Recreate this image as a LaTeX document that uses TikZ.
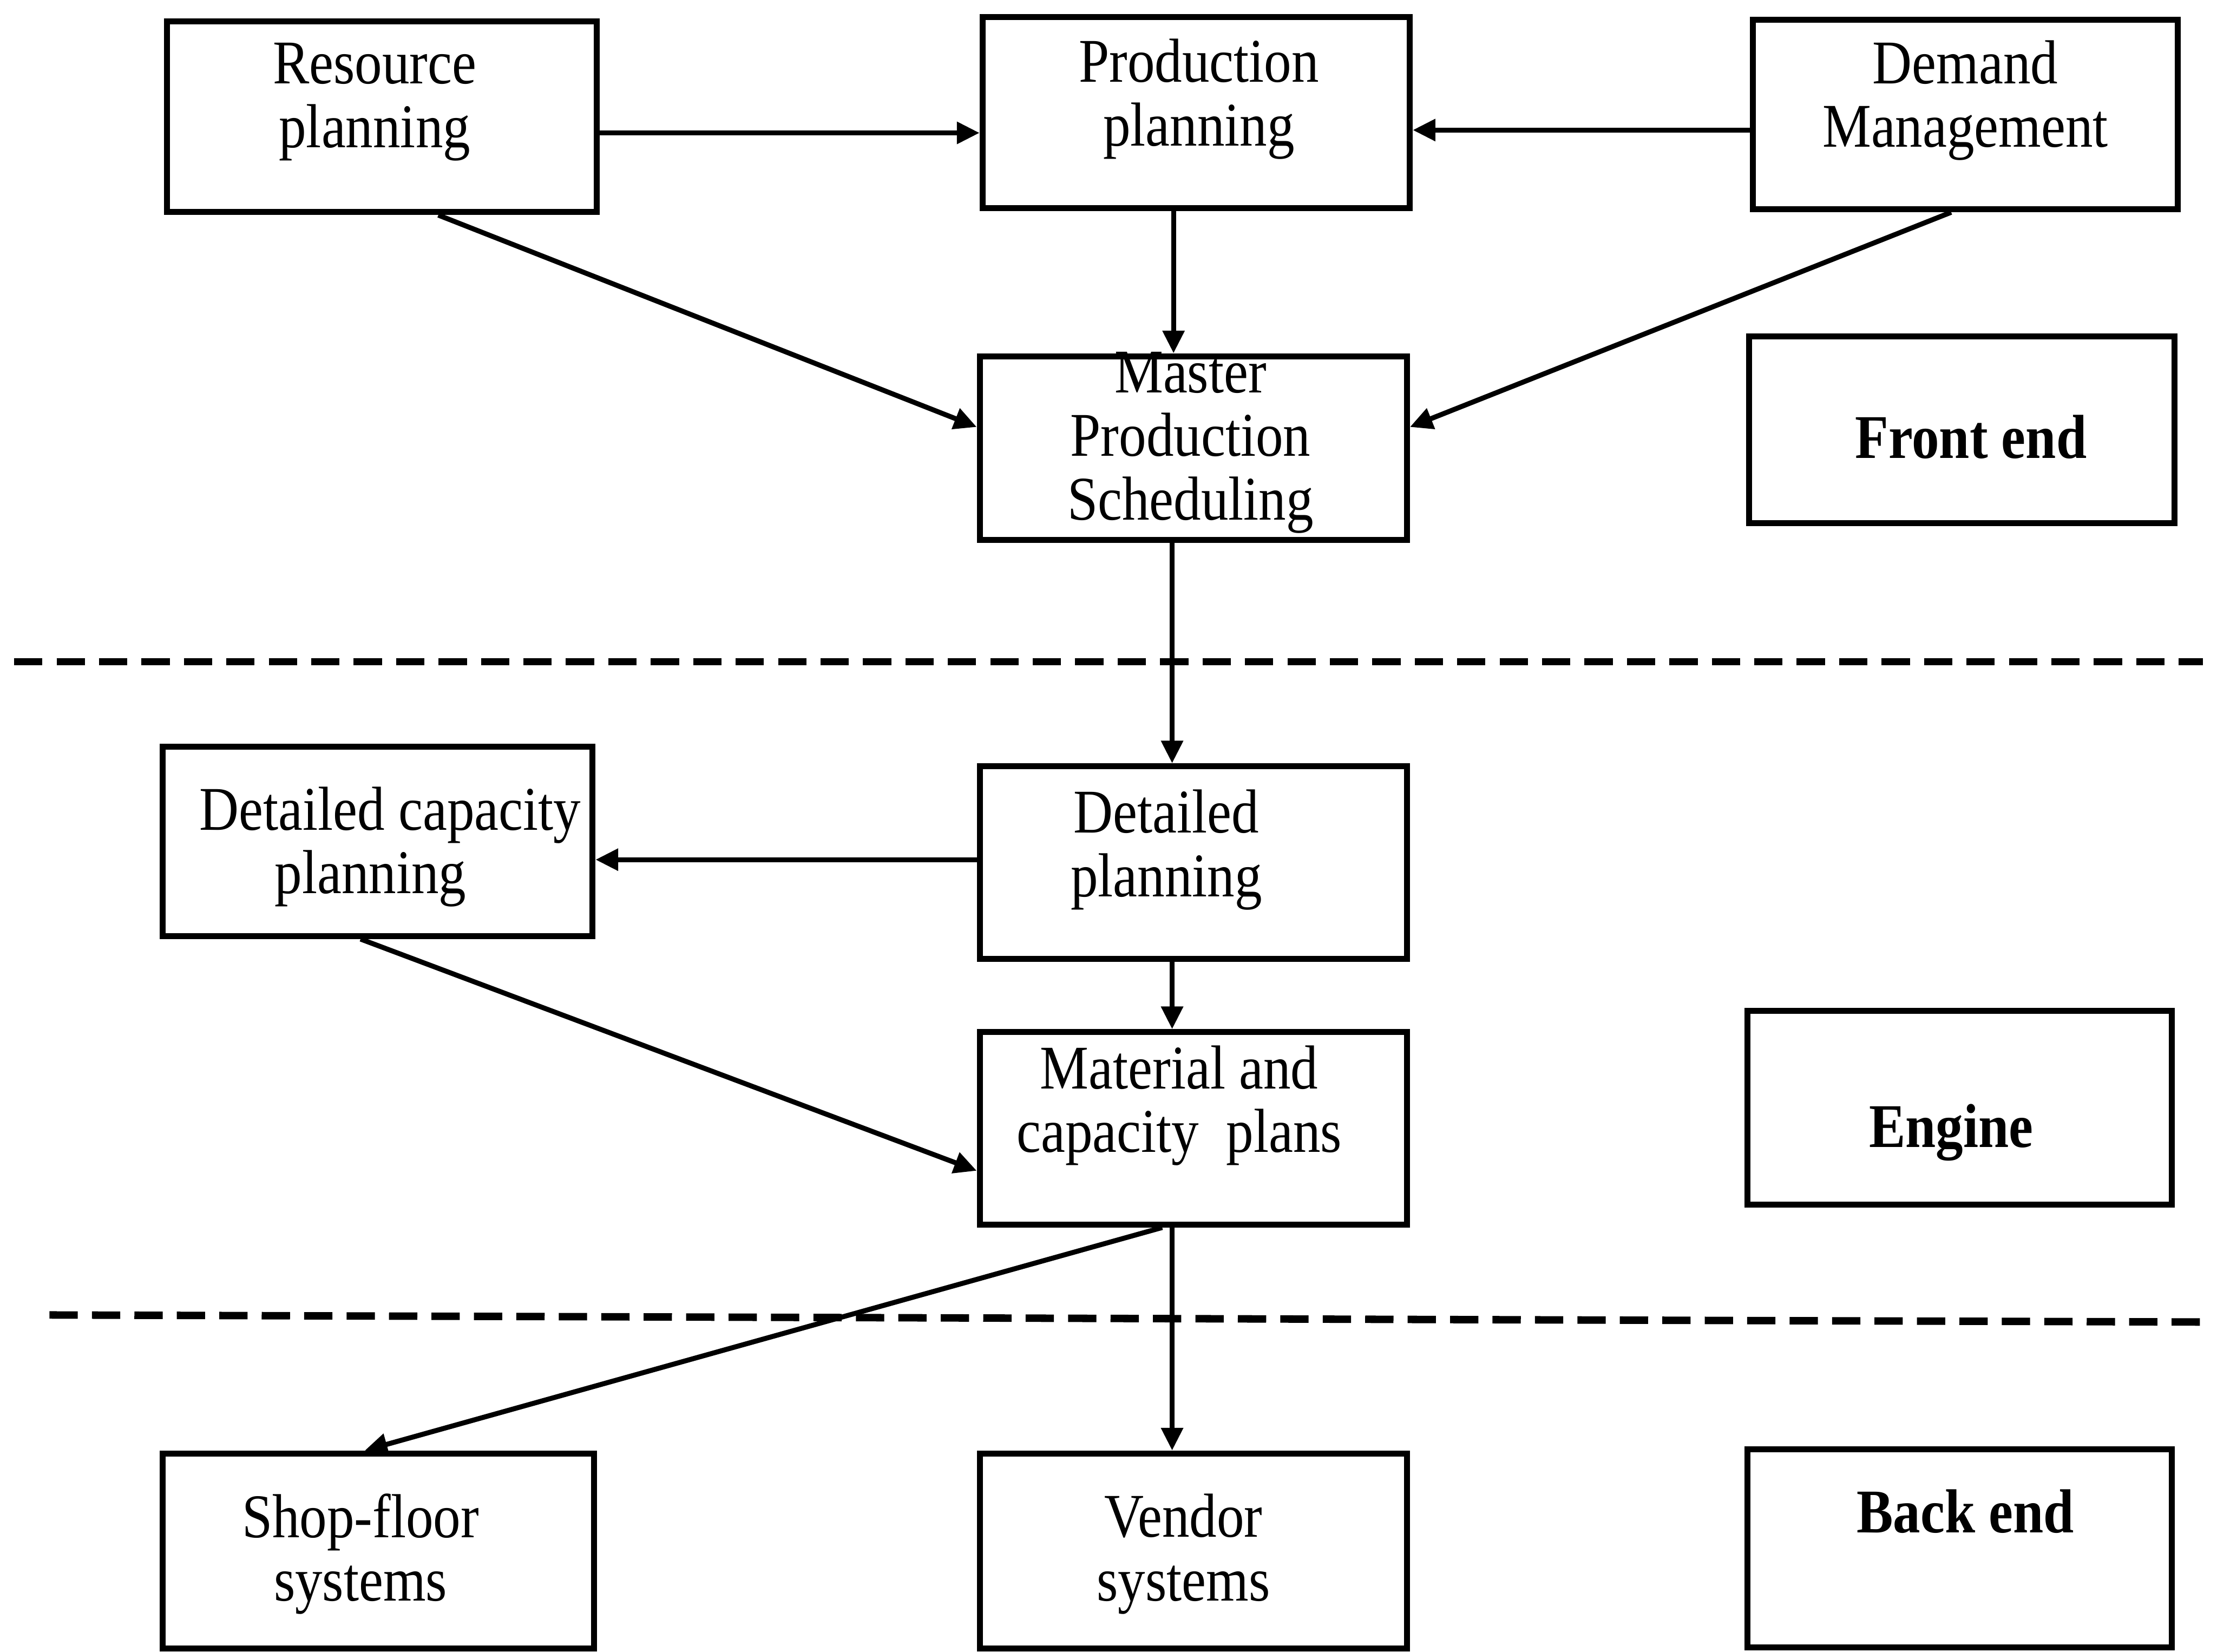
\documentclass[tikz,border=0pt]{standalone}
\usepackage{fontspec}
\setmainfont{Liberation Serif}[FakeStretch=0.88]
\usetikzlibrary{arrows.meta}
\begin{document}
\begin{tikzpicture}[x=0.01cm,y=-0.01cm,
  box/.style={draw,line width=1.2pt,inner sep=0pt},
  txt/.style={align=center,inner sep=0pt,font=\fontsize{12.5}{12.8}\selectfont},
  btxt/.style={align=center,inner sep=0pt,font=\fontsize{12.5}{12.8}\selectfont\bfseries},
  arr/.style={line width=1pt,-{Triangle[length=0.16cm,width=0.15cm]}},
  sep/.style={line width=1.5pt,dash pattern=on 0.2cm off 0.1cm}]
\useasboundingbox (0,0) rectangle (1568,1168);
% boxes
\node[box,minimum width=3.04cm,minimum height=1.35cm] (rp)  at (270,82.5) {};
\node[box,minimum width=3.02cm,minimum height=1.35cm] (pp)  at (846,79.5) {};
\node[box,minimum width=3.00cm,minimum height=1.34cm] (dm)  at (1390,81) {};
\node[box,minimum width=3.02cm,minimum height=1.30cm] (mps) at (844,317) {};
\node[box,minimum width=3.01cm,minimum height=1.32cm] (fe)  at (1387.5,304) {};
\node[box,minimum width=3.04cm,minimum height=1.34cm] (dcp) at (267,595) {};
\node[box,minimum width=3.02cm,minimum height=1.36cm] (dp)  at (844,610) {};
\node[box,minimum width=3.02cm,minimum height=1.36cm] (mcp) at (844,798) {};
\node[box,minimum width=3.00cm,minimum height=1.37cm] (en)  at (1386,783.5) {};
\node[box,minimum width=3.05cm,minimum height=1.38cm] (sf)  at (267.5,1097) {};
\node[box,minimum width=3.02cm,minimum height=1.38cm] (vs)  at (844,1097) {};
\node[box,minimum width=3.00cm,minimum height=1.40cm] (be)  at (1386,1095) {};
% texts
\node[txt] (rpT)  at (265,72) {Resource\\planning};
\node[txt] (ppT)  at (848,70) {Production\\planning};
\node[txt] (dmT)  at (1390,71) {Demand\\Management};
\node[txt] (mpsT) at (842,313) {Master\\Production\\Scheduling};
\node[btxt] (feT) at (1394,309) {Front end};
\node[txt] (dcpT) at (276,599) {Detailed capacity\\planning\hspace*{0.28cm}};
\node[txt] (dpT)  at (825,601) {Detailed\\planning};
\node[txt] (mcpT) at (834,782) {Material and\\capacity~~plans};
\node[btxt] (enT) at (1380,801) {Engine};
\node[txt] (sfT)  at (255,1099) {Shop-floor\\systems};
\node[txt] (vsT)  at (837,1099) {Vendor\\systems};
\node[btxt] (beT) at (1390,1069) {Back end};
% helper coordinates
\coordinate (y94) at (0,94);
\coordinate (y92) at (0,92);
\coordinate (y302) at (0,302);
\coordinate (y608) at (0,608);
\coordinate (y828) at (0,828);
\coordinate (x830) at (830,0);
\coordinate (x829) at (829,0);
\coordinate (x310) at (310,0);
\coordinate (x1380) at (1380,0);
\coordinate (x255) at (255,0);
\coordinate (x822) at (822,0);
\coordinate (x258) at (258,0);
% connectors
\draw[arr] (rp.east |- y94) -- (pp.west |- y94);
\draw[arr] (dm.west |- y92) -- (pp.east |- y92);
\draw[arr] (pp.south -| x830) -- (mps.north -| x830);
\draw[arr] (rp.south -| x310) -- (mps.west |- y302);
\draw[arr] (dm.south -| x1380) -- (mps.east |- y302);
\draw[arr] (mps.south -| x829) -- (dp.north -| x829);
\draw[arr] (dp.west |- y608) -- (dcp.east |- y608);
\draw[arr] (dp.south -| x829) -- (mcp.north -| x829);
\draw[arr] (dcp.south -| x255) -- (mcp.west |- y828);
\draw[arr] (mcp.south -| x822) -- (sf.north -| x258);
\draw[arr] (mcp.south -| x829) -- (vs.north -| x829);
% separators
\draw[sep] (10,468) -- (1558,468);
\draw[sep] (35,930) -- (1558,935);
\end{tikzpicture}
\end{document}
